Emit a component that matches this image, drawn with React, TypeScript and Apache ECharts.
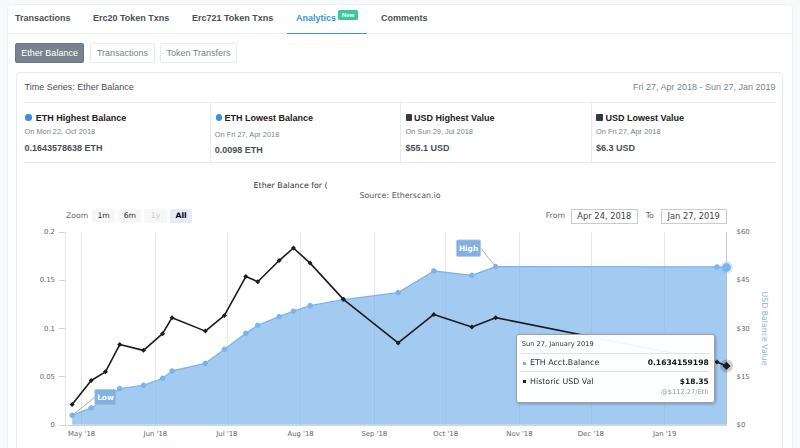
import React, { useEffect, useRef } from 'react';
import * as echarts from 'echarts';

// ---------- data ----------
const dates = [
  '2018-04-27', '2018-05-05', '2018-05-11', '2018-05-17', '2018-05-27', '2018-06-04', '2018-06-08',
  '2018-06-22', '2018-06-30', '2018-07-09', '2018-07-14', '2018-07-23', '2018-07-29', '2018-08-05',
  '2018-08-19', '2018-09-11', '2018-09-26', '2018-10-12', '2018-10-22', '2019-01-23', '2019-01-27',
];
const ethBalance = [
  0.0098, 0.0175, 0.0265, 0.0376, 0.041, 0.0483, 0.0559,
  0.0639, 0.0784, 0.095, 0.1034, 0.1124, 0.118, 0.1238,
  0.13, 0.1373, 0.1598, 0.1553, 0.1643578638, 0.164, 0.1634159198,
];
const usdValue = [
  6.3, 13.8, 16.5, 25.0, 23.2, 28.4, 33.4,
  29.2, 34.1, 46.2, 44.6, 51.2, 55.1, 50.4,
  39.1, 25.5, 34.4, 30.5, 33.4, 19.6, 18.35,
];
const lastEthPrice = 112.27;
const rangeFrom = '2018-04-24';
const rangeTo = '2019-01-27';
const leftAxis = { min: 0, max: 0.2, interval: 0.05 };
const rightAxis = { min: 0, max: 60, interval: 15 };
const annotationLabels = ['Low', 'High'];

const tabs = ['Transactions', 'Erc20 Token Txns', 'Erc721 Token Txns', 'Analytics', 'Comments'];
const subButtons = ['Ether Balance', 'Transactions', 'Token Transfers'];
const statTitles = ['ETH Highest Balance', 'ETH Lowest Balance', 'USD Highest Value', 'USD Lowest Value'];
const statDates = ['On Mon 22, Oct 2018', 'On Fri 27, Apr 2018', 'On Sun 29, Jul 2018', 'On Fri 27, Apr 2018'];
const statValues = ['0.1643578638 ETH', '0.0098 ETH', '$55.1 USD', '$6.3 USD'];
const zoomButtons = ['1m', '6m', '1y', 'All'];

const MONTHS = ['Jan', 'Feb', 'Mar', 'Apr', 'May', 'Jun', 'Jul', 'Aug', 'Sep', 'Oct', 'Nov', 'Dec'];
const MONTHS_LONG = ['January', 'February', 'March', 'April', 'May', 'June', 'July', 'August', 'September', 'October', 'November', 'December'];
const DAYS = ['Sun', 'Mon', 'Tue', 'Wed', 'Thu', 'Fri', 'Sat'];

const t = (s: string) => {
  const [y, m, d] = s.split('-').map(Number);
  return new Date(y, m - 1, d).getTime();
};

const CF = "'DejaVu Sans', sans-serif";
const PF = "'Liberation Sans', Arial, sans-serif";
const BLUE = '#7cb5ec';
const BLACK = '#1c1c1c';

// ---------- page chrome helpers ----------
const Txt = (p: { x: number; cy: number; fs: number; children: any; color?: string; bold?: boolean; font?: string; right?: boolean }) => (
  <div
    style={{
      position: 'absolute',
      [p.right ? 'right' : 'left']: p.right ? 800 - p.x : p.x,
      top: p.cy - 6,
      height: 12,
      lineHeight: '12px',
      fontSize: p.fs,
      color: p.color || '#4a4f55',
      fontWeight: p.bold ? 'bold' : 'normal',
      fontFamily: p.font || PF,
      whiteSpace: 'nowrap',
    } as any}
  >
    {p.children}
  </div>
);

const Box = (p: { x: number; y: number; w: number; h: number; style?: any; children?: any }) => (
  <div style={{ position: 'absolute', left: p.x, top: p.y, width: p.w, height: p.h, boxSizing: 'border-box', ...(p.style || {}) }}>
    {p.children}
  </div>
);

export default function App() {
  const ref = useRef<HTMLDivElement>(null);

  useEffect(() => {
    const chart = echarts.init(ref.current!, null, { renderer: 'svg' });
    const last = dates.length - 1;
    const ethData = dates.map((d, i) =>
      i === last ? { value: [t(d), ethBalance[i]], symbolSize: 8 } : [t(d), ethBalance[i]]
    );
    const usdData = dates.map((d, i) =>
      i === last ? { value: [t(d), usdValue[i]], symbolSize: 7.5 } : [t(d), usdValue[i]]
    );
    const lowIdx = ethBalance.indexOf(Math.min(...ethBalance));
    const highIdx = ethBalance.indexOf(Math.max(...ethBalance));
    const annData = [
      [t(dates[lowIdx]), ethBalance[lowIdx]],
      [t(dates[highIdx]), ethBalance[highIdx]],
    ];
    // label box placement relative to the annotated point
    const annLayout = [
      { dx: 22.6, dy: -26, w: 21.4, h: 15.7, lx: 22.6, ly: -18 },
      { dx: -39.3, dy: -26.7, w: 24.3, h: 16.7, lx: -15, ly: -18.4 },
    ];

    const lastDate = new Date(t(dates[last]));
    const header = `${DAYS[lastDate.getDay()]} ${lastDate.getDate()}, ${MONTHS_LONG[lastDate.getMonth()]} ${lastDate.getFullYear()}`;

    const tooltipHtml = () => `
<div style="position:relative;width:197px;height:67px;font-family:${CF};color:#333;">
  <div style="position:absolute;left:4.7px;top:5.3px;font-size:6.7px;line-height:8px;">${header}</div>
  <div style="position:absolute;left:4px;right:4px;top:17.7px;border-top:1px solid #e3e3e3;"></div>
  <div style="position:absolute;left:5.7px;top:26.5px;width:3.3px;height:3.3px;background:${BLUE};"></div>
  <div style="position:absolute;left:13px;top:23.7px;font-size:7.9px;line-height:8px;">ETH Acct.Balance</div>
  <div style="position:absolute;right:5.3px;top:23.5px;font-size:7.6px;line-height:8px;font-weight:bold;color:#111;">${ethBalance[last]}</div>
  <div style="position:absolute;left:4px;right:4px;top:36.3px;border-top:1px solid #e3e3e3;"></div>
  <div style="position:absolute;left:5.7px;top:45px;width:3.3px;height:3.3px;background:${BLACK};"></div>
  <div style="position:absolute;left:13px;top:42.7px;font-size:7.9px;line-height:8px;">Historic USD Val</div>
  <div style="position:absolute;right:5.3px;top:42.5px;font-size:7.5px;line-height:8px;font-weight:bold;color:#111;">$${usdValue[last].toFixed(2)}</div>
  <div style="position:absolute;right:5.3px;top:52.5px;font-size:6.7px;line-height:8px;color:#9a9a9a;">@$${lastEthPrice}/Eth</div>
</div>`;

    const axisLabelStyle = { fontFamily: CF, fontSize: 6.9, color: '#666' };

    const option: any = {
      animation: false,
      backgroundColor: 'transparent',
      title: [
        {
          text: 'Ether Balance for (',
          left: 253.6,
          top: 181.2,
          padding: 0,
          textStyle: { fontFamily: CF, fontSize: 7.9, fontWeight: 'normal', color: '#333' },
        },
        {
          text: 'Source: Etherscan.io',
          left: 'center',
          top: 191.3,
          padding: 0,
          textStyle: { fontFamily: CF, fontSize: 7.9, fontWeight: 'normal', color: '#555' },
        },
      ],
      grid: { left: 65, right: 73.5, top: 232.3, bottom: 23.2, containLabel: false, outerBoundsMode: 'none' },
      tooltip: {
        trigger: 'axis',
        alwaysShowContent: true,
        transitionDuration: 0,
        padding: 0,
        borderWidth: 1,
        borderColor: '#a0a0a0',
        backgroundColor: 'rgba(255,255,255,0.97)',
        extraCssText: 'box-shadow:1px 1px 3px rgba(0,0,0,0.28);border-radius:3px;',
        axisPointer: { type: 'line', lineStyle: { color: '#cccccc', width: 1, type: 'solid' }, z: 1 },
        position: () => {
          const px = chart.convertToPixel({ xAxisIndex: 0, yAxisIndex: 1 } as any, [t(dates[last]), usdValue[last]]) as number[];
          return [px[0] - 210.7, px[1] - 31.7];
        },
        formatter: tooltipHtml,
      },
      xAxis: {
        type: 'time',
        min: t(rangeFrom),
        max: t(rangeTo),
        splitNumber: 10,
        minInterval: 28 * 86400000,
        axisLine: { show: true, lineStyle: { color: '#ccd6eb', width: 1 } },
        axisTick: { show: false },
        splitLine: { show: true, lineStyle: { color: '#e6e6e6', width: 1 } },
        axisLabel: {
          ...axisLabelStyle,
          margin: 6,
          showMinLabel: false,
          showMaxLabel: false,
          hideOverlap: false,
          formatter: (v: number) => {
            const d = new Date(v);
            if (d.getDate() !== 1) return '';
            return `${MONTHS[d.getMonth()]} '${String(d.getFullYear()).slice(2)}`;
          },
        },
      },
      yAxis: [
        {
          type: 'value',
          position: 'left',
          ...leftAxis,
          axisLine: { show: false },
          axisTick: { show: true, length: 6, lineStyle: { color: '#ccd6eb' } },
          splitLine: { show: false },
          axisLabel: { ...axisLabelStyle, margin: 10 },
        },
        {
          type: 'value',
          position: 'right',
          ...rightAxis,
          name: 'USD Balance Value',
          nameLocation: 'middle',
          nameGap: 30,
          nameRotate: -90,
          nameTextStyle: { fontFamily: CF, fontSize: 7.8, color: BLUE },
          axisLine: { show: false },
          axisTick: { show: false },
          splitLine: { show: false },
          axisLabel: { ...axisLabelStyle, margin: 10, formatter: (v: number) => `$${v}` },
        },
      ],
      series: [
        {
          name: 'ETH Acct.Balance',
          type: 'line',
          xAxisIndex: 0,
          yAxisIndex: 0,
          data: ethData,
          symbol: 'circle',
          symbolSize: 5.5,
          showAllSymbol: true,
          lineStyle: { color: BLUE, width: 1.3 },
          itemStyle: { color: BLUE },
          areaStyle: { color: BLUE, opacity: 0.7 },
          z: 2,
          emphasis: { disabled: true },
        },
        {
          name: 'halo-eth',
          type: 'scatter',
          yAxisIndex: 0,
          data: [[t(dates[last]), ethBalance[last]]],
          symbol: 'circle',
          symbolSize: 13,
          itemStyle: { color: 'rgba(124,181,236,0.35)' },
          silent: true,
          z: 3,
          tooltip: { show: false },
        },
        {
          name: 'halo-usd',
          type: 'scatter',
          yAxisIndex: 1,
          data: [[t(dates[last]), usdValue[last]]],
          symbol: 'circle',
          symbolSize: 13,
          itemStyle: { color: 'rgba(0,0,0,0.22)' },
          silent: true,
          z: 4,
          tooltip: { show: false },
        },
        {
          name: 'Historic USD Val',
          type: 'line',
          xAxisIndex: 0,
          yAxisIndex: 1,
          data: usdData,
          symbol: 'diamond',
          symbolSize: 5,
          showAllSymbol: true,
          lineStyle: { color: BLACK, width: 1.6 },
          itemStyle: { color: BLACK },
          z: 5,
          emphasis: { disabled: true },
        },
        {
          name: 'annotations',
          type: 'custom',
          xAxisIndex: 0,
          yAxisIndex: 0,
          data: annData,
          z: 6,
          silent: true,
          tooltip: { show: false },
          renderItem: (params: any, api: any) => {
            const p = api.coord([api.value(0), api.value(1)]);
            const o = annLayout[params.dataIndex];
            return {
              type: 'group',
              children: [
                {
                  type: 'line',
                  shape: { x1: p[0], y1: p[1], x2: p[0] + o.lx, y2: p[1] + o.ly },
                  style: { stroke: '#9a9a9a', lineWidth: 0.8 },
                },
                {
                  type: 'rect',
                  shape: { x: p[0] + o.dx, y: p[1] + o.dy, width: o.w, height: o.h, r: 1.5 },
                  style: { fill: '#7fb1e6', stroke: '#c8c8c8', lineWidth: 0.8 },
                },
                {
                  type: 'text',
                  style: {
                    text: annotationLabels[params.dataIndex],
                    x: p[0] + o.dx + o.w / 2,
                    y: p[1] + o.dy + o.h / 2,
                    fill: '#ffffff',
                    font: `bold 7.4px ${CF}`,
                    align: 'center',
                    verticalAlign: 'middle',
                  },
                },
              ],
            };
          },
        },
      ],
    };

    chart.setOption(option);
    chart.dispatchAction({ type: 'showTip', seriesIndex: 3, dataIndex: last });
    return () => chart.dispose();
  }, []);

  const tabX = [15, 93, 192, 296, 381];
  const btn = [
    { x: 15.3, w: 68.7 },
    { x: 90.3, w: 64.4 },
    { x: 160.3, w: 76.4 },
  ];
  const colX = [24.5, 214.8, 405.6, 596];
  const colTextX = [35.7, 224.5, 414, 605.6];
  const colDy = [0, 2.7, 0, 0];
  const zb = [
    { x: 92.3, w: 22.7 },
    { x: 118.4, w: 22.9 },
    { x: 144.4, w: 22.4 },
    { x: 170, w: 22.3 },
  ];

  return (
    <div style={{ position: 'fixed', left: 0, top: 0, width: 800, height: 448, overflow: 'hidden', background: '#f8f9fa', fontFamily: PF }}>
      {/* outer white panel */}
      <Box x={7} y={3.5} w={786} h={470} style={{ background: '#fff', borderRadius: 4, border: '1px solid #eef0f5' }} />
      {/* tabs */}
      {tabs.map((s, i) => (
        <Txt key={s} x={tabX[i]} cy={17.5} fs={9} bold color={i === 3 ? '#3498db' : '#4a4f55'}>
          {s}
        </Txt>
      ))}
      <Box x={338.3} y={10} w={19.5} h={9.5} style={{ background: '#3cc79f', borderRadius: 1.5 }}>
        <div style={{ textAlign: 'center', fontSize: 6.2, lineHeight: '9.5px', fontWeight: 'bold', color: '#fff' }}>New</div>
      </Box>
      <Box x={7} y={33.3} w={786} h={1} style={{ background: '#eef0f5' }} />
      <Box x={286.7} y={32.5} w={80} h={1.8} style={{ background: '#3498db' }} />
      {/* sub buttons */}
      {subButtons.map((s, i) => (
        <Box
          key={s}
          x={btn[i].x}
          y={42.7}
          w={btn[i].w}
          h={20}
          style={{
            background: i === 0 ? '#77838f' : '#fff',
            border: i === 0 ? '1px solid #6b7680' : '1px solid #e7eaf3',
            borderRadius: 2,
            color: i === 0 ? '#fff' : '#77838f',
            fontSize: 9,
            lineHeight: '18px',
            textAlign: 'center',
            whiteSpace: 'nowrap',
          }}
        >
          {s}
        </Box>
      ))}
      {/* inner card */}
      <Box x={15.7} y={71.5} w={767.3} h={420} style={{ border: '1px solid #e7eaf3', borderRadius: 4, background: '#fff' }} />
      <Txt x={24.5} cy={86.7} fs={9} color="#4a4f55">Time Series: Ether Balance</Txt>
      <Txt x={775.5} cy={86.7} fs={9} color="#77838f" right>Fri 27, Apr 2018 - Sun 27, Jan 2019</Txt>
      <Box x={24} y={102} w={751.5} h={1} style={{ background: '#e7eaf3' }} />
      <Box x={24} y={162} w={751.5} h={1} style={{ background: '#e7eaf3' }} />
      {[209.5, 400, 590.5].map((x) => (
        <Box key={x} x={x} y={102.5} w={1} h={59.5} style={{ background: '#e7eaf3' }} />
      ))}
      {statTitles.map((s, i) => (
        <React.Fragment key={s + i}>
          <Box
            x={colX[i] + (i < 2 ? 0.8 : 0.2)}
            y={117.7 - 3.3}
            w={6.6}
            h={6.6}
            style={{ background: i < 2 ? '#3d8fdb' : '#343a40', borderRadius: i < 2 ? '50%' : 1 }}
          />
          <Txt x={colTextX[i]} cy={117.7} fs={9} bold color="#1e2022">{s}</Txt>
          <Txt x={colX[i]} cy={132.3 + colDy[i]} fs={7.4} color="#77838f">{statDates[i]}</Txt>
          <Txt x={colX[i]} cy={147.5 + colDy[i]} fs={9} bold color="#4a4f55">{statValues[i]}</Txt>
        </React.Fragment>
      ))}
      {/* range selector */}
      <Txt x={66} cy={215.7} fs={7.7} font={CF} color="#666">Zoom</Txt>
      {zoomButtons.map((s, i) => (
        <Box
          key={s}
          x={zb[i].x}
          y={209}
          w={zb[i].w}
          h={14.3}
          style={{
            background: i === 3 ? '#e6ebf5' : '#f7f7f7',
            borderRadius: 1.5,
            color: i === 2 ? '#cccccc' : i === 3 ? '#000' : '#333',
            fontWeight: i === 3 ? 'bold' : 'normal',
            fontFamily: CF,
            fontSize: 7.7,
            lineHeight: '14.3px',
            textAlign: 'center',
          }}
        >
          {s}
        </Box>
      ))}
      <Txt x={545.7} cy={216.3} fs={7.8} font={CF} color="#666">From</Txt>
      <Box x={571} y={209.3} w={66.7} h={14.3} style={{ border: '1px solid #cccccc', fontFamily: CF, fontSize: 8.3, lineHeight: '12.3px', textAlign: 'center', color: '#444' }}>
        Apr 24, 2018
      </Box>
      <Txt x={645.7} cy={216.3} fs={7.8} font={CF} color="#666">To</Txt>
      <Box x={660.7} y={209.3} w={66} h={14.3} style={{ border: '1px solid #cccccc', fontFamily: CF, fontSize: 8.3, lineHeight: '12.3px', textAlign: 'center', color: '#444' }}>
        Jan 27, 2019
      </Box>
      {/* chart */}
      <div ref={ref} style={{ position: 'absolute', left: 0, top: 0, width: 800, height: 448 }} />
    </div>
  );
}
